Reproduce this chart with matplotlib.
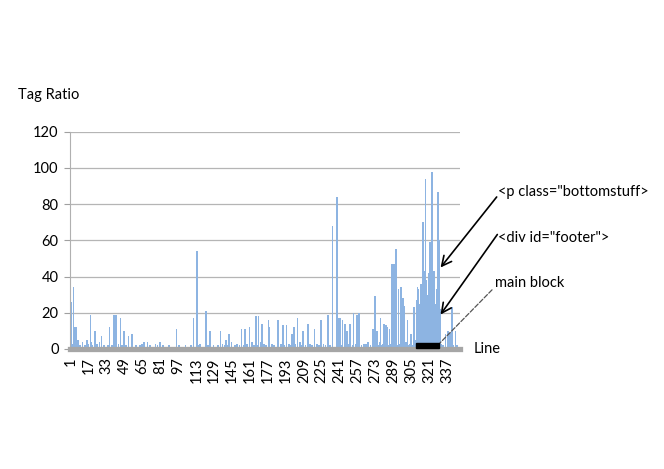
import numpy as np
import matplotlib
matplotlib.use("Agg")
import matplotlib.pyplot as plt
from matplotlib.patches import Rectangle

plt.rcParams['font.family'] = ['Lato', 'DejaVu Sans']

# tag ratio per source line (line 1 .. 347)
tag_ratio = [
    26, 3, 34, 12, 12, 1, 5, 1, 2, 1, 4, 1, 2, 1, 5, 3, 1, 19, 4, 2,          # 1-20
    1, 10, 3, 3, 1, 4, 1, 7, 1, 2, 0, 1, 1, 2, 12, 1, 2, 1, 19, 2,           # 21-40
    19, 1, 3, 1, 17, 2, 1, 10, 1, 2, 1, 7, 1, 1, 8, 1, 1, 0, 2, 1,           # 41-60
    1, 2, 1, 3, 1, 4, 1, 1, 4, 1, 2, 1, 0, 1, 1, 3, 1, 2, 1, 4,              # 61-80
    1, 1, 2, 1, 1, 0, 1, 2, 1, 1, 1, 0, 1, 1, 11, 1, 2, 1, 1, 1,             # 81-100
    0, 1, 2, 1, 1, 1, 1, 2, 1, 17, 1, 1, 54, 2, 1, 3, 1, 1, 1, 1,            # 101-120
    21, 1, 2, 1, 10, 1, 1, 2, 1, 1, 1, 2, 1, 10, 1, 3, 1, 2, 5, 1,           # 121-140
    2, 8, 1, 4, 1, 1, 2, 1, 3, 1, 2, 1, 11, 1, 2, 11, 1, 3, 1, 12,           # 141-160
    1, 4, 1, 2, 1, 18, 2, 18, 1, 4, 14, 1, 3, 1, 2, 1, 16, 12, 1, 3,         # 161-180
    1, 2, 1, 1, 16, 16, 1, 3, 1, 13, 2, 1, 13, 1, 3, 1, 2, 8, 1, 12,         # 181-200
    3, 1, 17, 1, 4, 1, 2, 10, 1, 2, 1, 14, 1, 3, 1, 2, 1, 11, 1, 3,          # 201-220
    1, 2, 1, 16, 1, 3, 1, 2, 1, 19, 1, 2, 1, 68, 1, 1, 1, 84, 1, 17,         # 221-240
    17, 2, 16, 1, 14, 2, 10, 1, 3, 14, 1, 2, 20, 1, 3, 19, 1, 20, 1, 2,      # 241-260
    1, 3, 2, 3, 1, 4, 1, 2, 1, 11, 2, 29, 1, 10, 2, 4, 17, 2, 3, 14,         # 261-280
    2, 13, 12, 2, 11, 3, 47, 2, 47, 3, 55, 2, 33, 3, 34, 2, 28, 24, 2, 4,    # 281-300
    16, 2, 3, 8, 2, 2, 23, 5, 27, 34, 33, 25, 36, 28, 70, 43, 94, 38, 30, 42,  # 301-320
    59, 35, 98, 30, 43, 25, 33, 87, 60, 22, 3, 1, 2, 1, 8, 1, 10, 3, 9, 1,   # 321-340
    23, 2, 1, 10, 2, 1, 0,                                                   # 341-347
]
lines = np.arange(1, len(tag_ratio) + 1)
tick_lines = list(range(1, 338, 16))
y_ticks = [0, 20, 40, 60, 80, 100, 120]
main_block = (310, 329)

fig = plt.figure(figsize=(6.64, 4.69), dpi=100)
ax = fig.add_axes([0.105, 0.256, 0.588, 0.463])

ax.bar(lines, tag_ratio, width=0.6, color='#8DB4E2', edgecolor='#8DB4E2',
       linewidth=0.5, antialiased=False, zorder=2)

ax.set_xlim(0, 348.5)
ax.set_ylim(0, 120)
ax.set_yticks(y_ticks)
ax.set_xticks(tick_lines)
ax.set_xticklabels([str(t) for t in tick_lines], rotation=90, fontsize=10.5)
ax.tick_params(axis='y', labelsize=10.5, length=4, color='#a0a0a0', pad=4)
ax.tick_params(axis='x', length=0, pad=6)
ax.grid(axis='y', color='#b5b5b5', lw=0.9, zorder=0)
ax.set_axisbelow(True)
for s in ['top', 'right']:
    ax.spines[s].set_visible(False)
ax.spines['left'].set_color('#b0b0b0')
ax.spines['bottom'].set_color('#a6a6a6')
ax.spines['bottom'].set_linewidth(3.8)
ax.spines['bottom'].set_zorder(3)

# main block marker
ax.add_patch(Rectangle((main_block[0] - 0.5, 0.4), main_block[1] - main_block[0] + 1, 3.0,
                       color='black', zorder=4, clip_on=False))

fig.text(0.027, 0.797, 'Tag Ratio', fontsize=10.5, va='center')
fig.text(0.714, 0.256, 'Line', fontsize=10.5, va='center')

arrow_kw = dict(arrowstyle='->, head_length=0.7, head_width=0.35', color='black', lw=1.2,
                shrinkA=0, shrinkB=0)
fig.text(0.750, 0.591, '<p class="bottomstuff>', fontsize=10.5, va='center')
ax.annotate('', xy=(331, 45), xytext=(0.748, 0.580), textcoords='figure fraction',
            arrowprops=arrow_kw)
fig.text(0.750, 0.493, '<div id="footer">', fontsize=10.5, va='center')
ax.annotate('', xy=(331, 19), xytext=(0.749, 0.500), textcoords='figure fraction',
            arrowprops=arrow_kw)
fig.text(0.745, 0.397, 'main block', fontsize=10.5, va='center')
ax.annotate('', xy=(330, 3), xytext=(0.741, 0.382), textcoords='figure fraction',
            arrowprops=dict(arrowstyle='-', color='#555555', lw=0.9, ls='--',
                            shrinkA=0, shrinkB=0))

fig.savefig('out.png', dpi=100, facecolor='white')
